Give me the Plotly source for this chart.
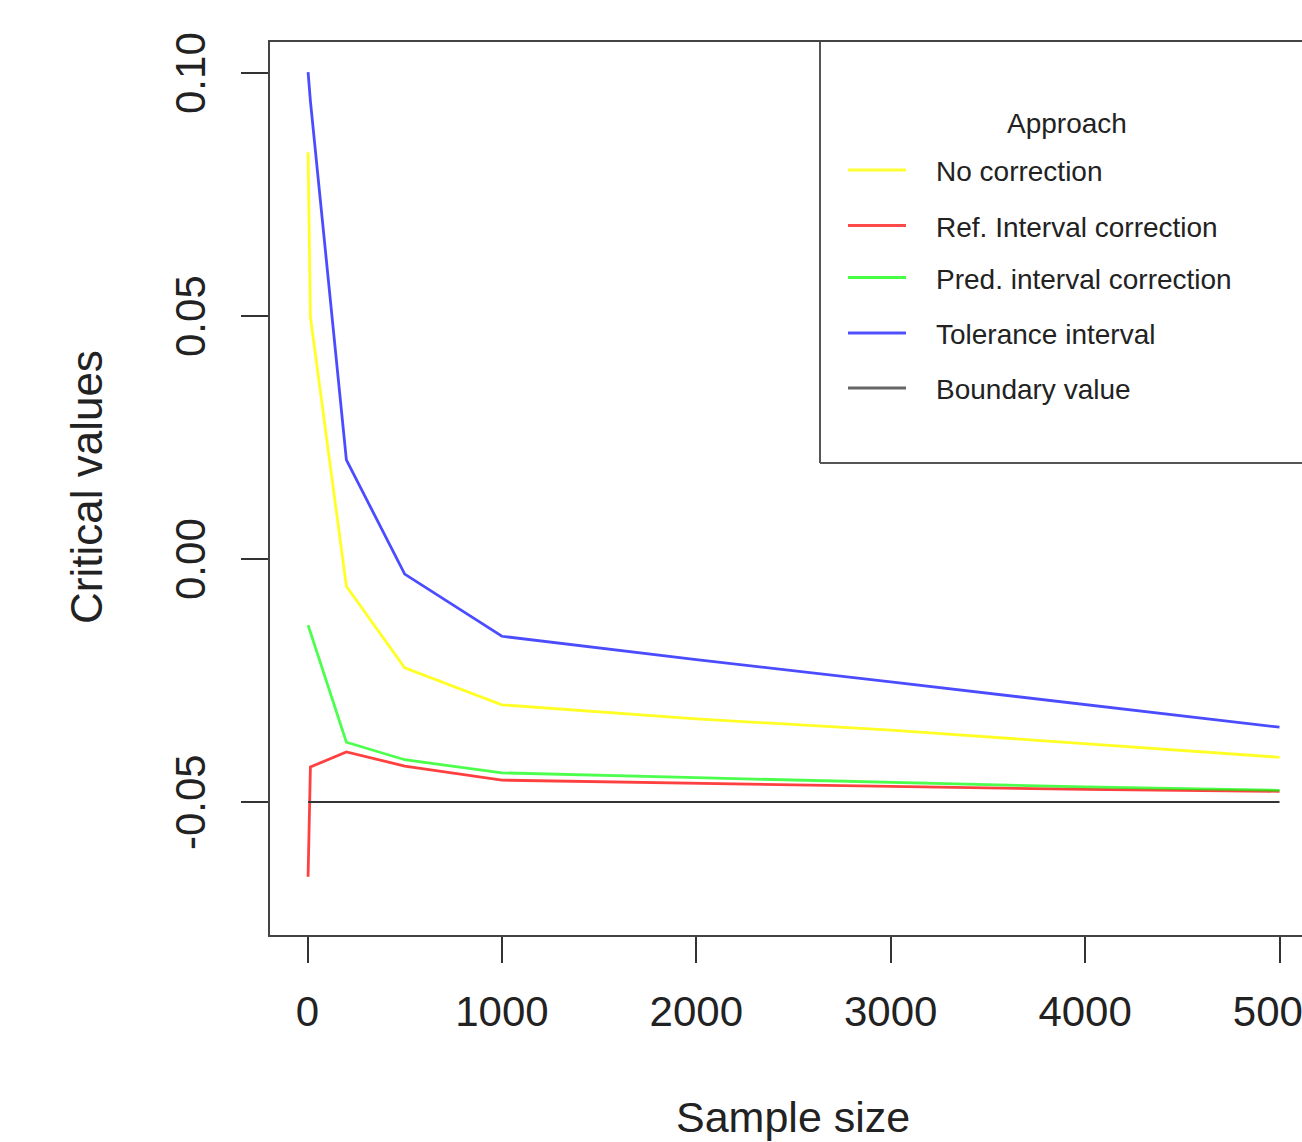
import plotly.graph_objects as go

# ---- data ----
sample_size = [3, 15, 200, 500, 1000, 2000, 3000, 4000, 5000]
no_correction = [0.0837, 0.0498, -0.0056, -0.0224, -0.0300, -0.0329, -0.0352, -0.0380, -0.0408]
ref_interval = [-0.0654, -0.0428, -0.0397, -0.0426, -0.0455, -0.0462, -0.0468, -0.0474, -0.0478]
pred_interval = [-0.0136, -0.0151, -0.0377, -0.0413, -0.0440, -0.0450, -0.0460, -0.0469, -0.0476]
tolerance = [0.1002, 0.0942, 0.0204, -0.0031, -0.0159, -0.0207, -0.0253, -0.0300, -0.0346]
boundary_value = -0.05

series_names = ["No correction", "Ref. Interval correction", "Pred. interval correction",
                "Tolerance interval", "Boundary value"]
series_colors = ["rgba(255,255,0,0.85)", "rgba(255,0,0,0.75)", "rgba(0,255,0,0.7)",
                 "rgba(0,0,255,0.7)", "#333333"]
legend_colors = ["#ffff33", "#ff4a4a", "#44ff44", "#5050ff", "#666666"]

x_ticks = [0, 1000, 2000, 3000, 4000, 5000]
y_ticks = [-0.05, 0.00, 0.05, 0.10]
y_tick_labels = ["-0.05", "0.00", "0.05", "0.10"]

W, H = 1302, 1142
L, R, T, B = 270, 0, 42, 207
PW, PH = W - L - R, H - T - B

FONT = "Liberation Sans, Arial, sans-serif"
TXT = "#222222"


def px(xp):
    return (xp - L) / PW


def py(yp):
    return (T + PH - yp) / PH


fig = go.Figure()
ys = [no_correction, ref_interval, pred_interval, tolerance]
for name, col, vals in zip(series_names[:4], series_colors[:4], ys):
    fig.add_trace(go.Scatter(x=sample_size, y=vals, mode="lines", name=name,
                             line=dict(color=col, width=2.8), showlegend=False))
fig.add_trace(go.Scatter(x=[sample_size[0], sample_size[-1]], y=[boundary_value, boundary_value],
                         mode="lines", name=series_names[4],
                         line=dict(color=series_colors[4], width=2.2), showlegend=False))

# x scale: 0 -> 307.5 px, 5000 -> 1279.5 px
kx = (1279.5 - 307.5) / 5000
x0 = (L - 307.5) / kx
x1 = (W - R - 307.5) / kx
# y scale: 0.10 -> 73 px, 0 -> 559 px
ky = (559 - 73) / 0.10
ytop = (559 - T) / ky
ybot = -(T + PH - 559) / ky

fig.update_layout(
    width=W, height=H, autosize=False,
    margin=dict(l=L, r=R, t=T, b=B, pad=0, autoexpand=False),
    paper_bgcolor="white", plot_bgcolor="white",
    font=dict(family=FONT, color=TXT),
    xaxis=dict(range=[x0, x1], tickvals=x_ticks, ticktext=[str(v) for v in x_ticks],
               showgrid=False, zeroline=False, showline=True, mirror=True,
               linecolor="#444444", linewidth=2, automargin=False,
               ticks="outside", ticklen=26, tickwidth=1.6, tickcolor="#333333",
               tickfont=dict(size=42, family=FONT, color=TXT),
               ticklabelstandoff=13, ticklabeloverflow="allow"),
    yaxis=dict(range=[ybot, ytop], tickvals=y_ticks, showticklabels=False,
               showgrid=False, zeroline=False, showline=True, mirror=False,
               linecolor="#444444", linewidth=2, automargin=False,
               ticks="outside", ticklen=27, tickwidth=1.6, tickcolor="#333333"),
)

# y tick labels (rotated, parallel to the axis)
for v, lab in zip(y_ticks, y_tick_labels):
    fig.add_annotation(x=px(190), y=v, xref="paper", yref="y", text=lab,
                       showarrow=False, xanchor="center", yanchor="middle", textangle=-90,
                       font=dict(size=42, family=FONT, color=TXT))

# axis titles
fig.add_annotation(x=px(793), y=py(1117), xref="paper", yref="paper", text="Sample size",
                   showarrow=False, xanchor="center", yanchor="middle",
                   font=dict(size=43, family=FONT, color=TXT))
fig.add_annotation(x=px(86), y=py(487), xref="paper", yref="paper", text="Critical values",
                   showarrow=False, xanchor="center", yanchor="middle", textangle=-90,
                   font=dict(size=44, family=FONT, color=TXT))

# legend box (cropped on the right)
fig.add_shape(type="line", xref="paper", yref="paper", x0=px(820), x1=px(820), y0=py(42), y1=py(463),
              line=dict(color="#555555", width=2))
fig.add_shape(type="line", xref="paper", yref="paper", x0=px(820), x1=px(W + 5), y0=py(463), y1=py(463),
              line=dict(color="#555555", width=2))
fig.add_annotation(x=px(1067), y=py(124), xref="paper", yref="paper", text="Approach",
                   showarrow=False, xanchor="center", yanchor="middle",
                   font=dict(size=28, family=FONT, color=TXT))
legend_y = [170, 225.5, 277.5, 333, 388]
for name, col, ly in zip(series_names, legend_colors, legend_y):
    fig.add_shape(type="line", xref="paper", yref="paper", x0=px(848), x1=px(906),
                  y0=py(ly), y1=py(ly), line=dict(color=col, width=3))
    fig.add_annotation(x=px(934), y=py(ly + 2), xref="paper", yref="paper", text=name,
                       showarrow=False, xanchor="left", yanchor="middle",
                       font=dict(size=28, family=FONT, color=TXT))

fig.write_html("out.html", config={"displayModeBar": False},
               post_script="document.body.style.margin='0';document.body.style.overflow='hidden';")
